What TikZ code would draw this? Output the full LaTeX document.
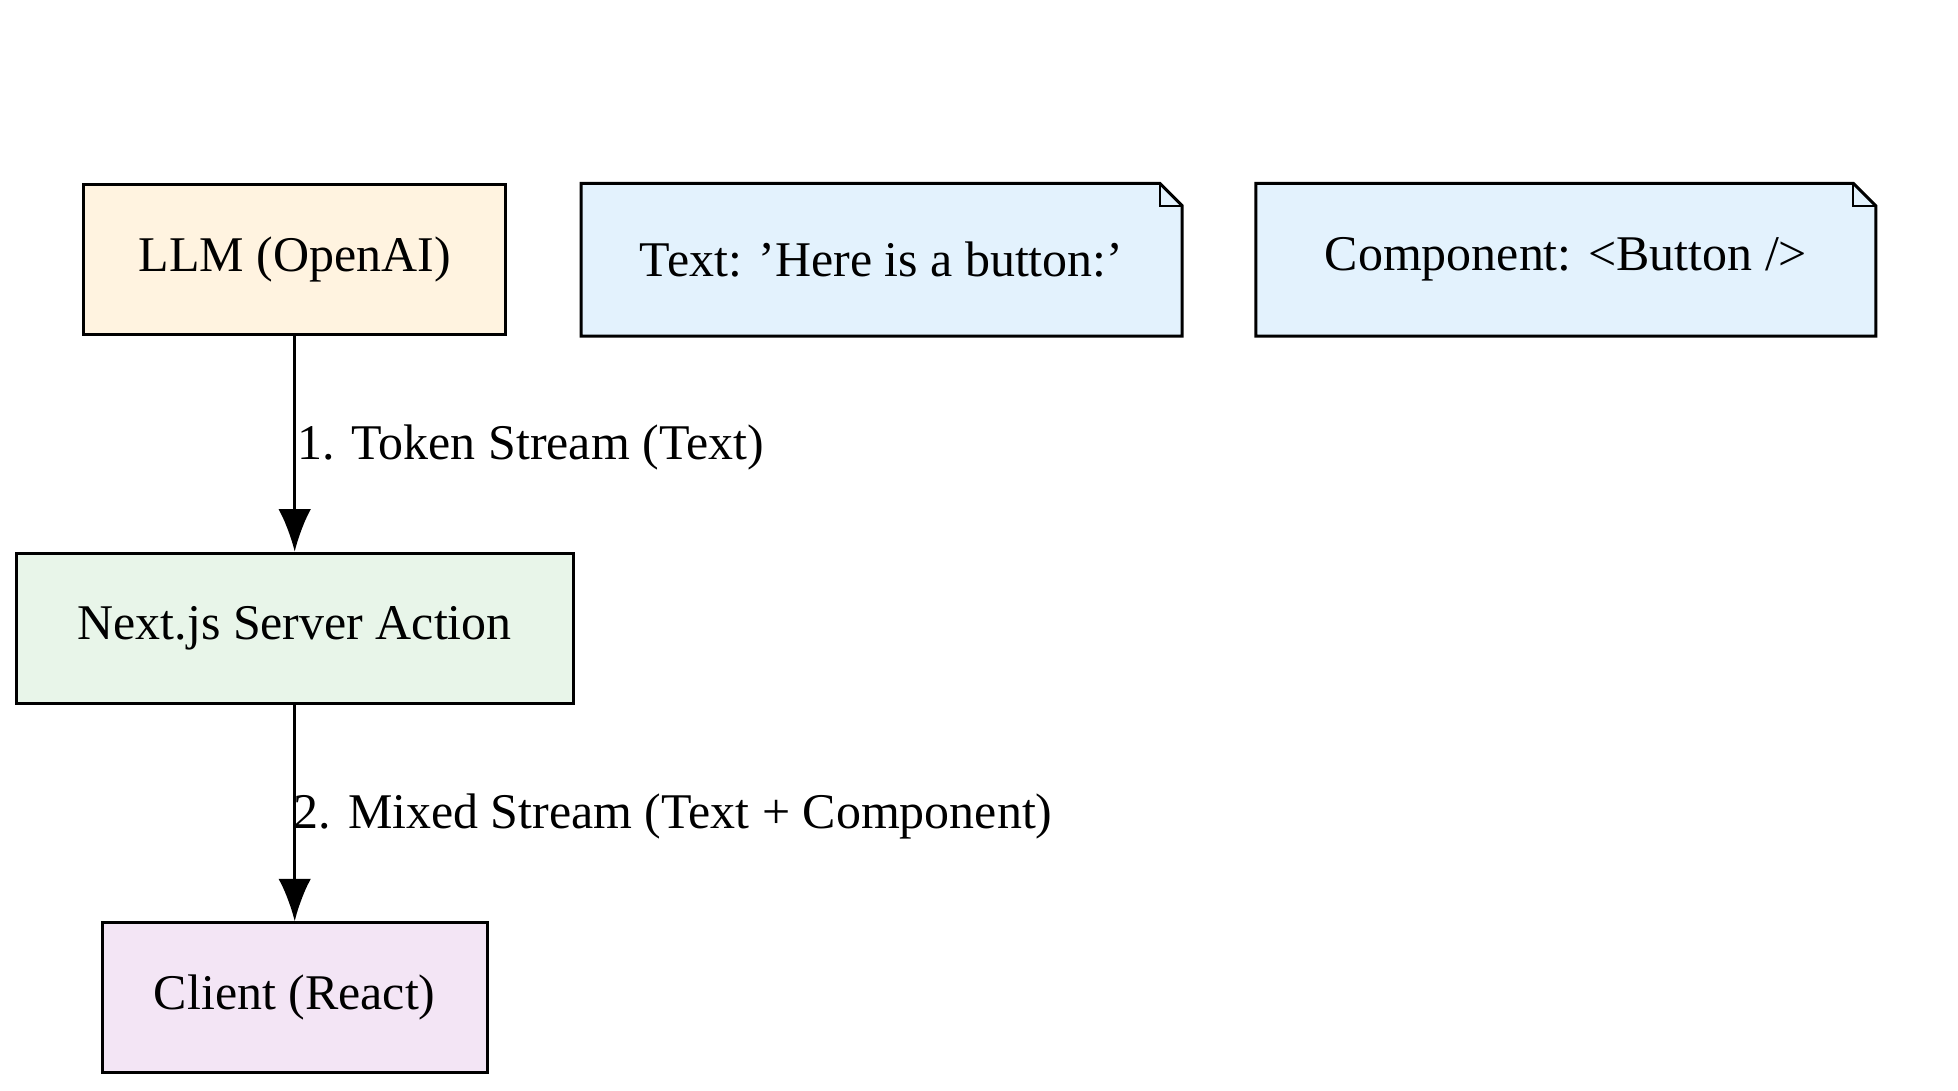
\documentclass[tikz,border=0pt]{standalone}
\usepackage{fontspec}
\setmainfont{Liberation Serif}
\usetikzlibrary{arrows.meta}
\definecolor{cllm}{HTML}{FFF3E0}
\definecolor{cnote}{HTML}{E3F2FD}
\definecolor{csrv}{HTML}{E8F5E9}
\definecolor{ccli}{HTML}{F3E5F5}
\begin{document}
\begin{tikzpicture}[x=0.5pt,y=-0.5pt,
  box/.style={draw,line width=1.2pt,minimum height=60pt,inner sep=0pt,font=\fontsize{20}{24}\selectfont},
  lbl/.style={font=\fontsize{20}{24}\selectfont,anchor=west,inner sep=0pt},
  arr/.style={line width=1.2pt,-{Latex[length=17pt,width=13pt]}}]
\useasboundingbox (0,0) rectangle (1568,873);
\node[box,fill=cllm,minimum width=169pt] (llm) at (236,208) {LLM (OpenAI)};
\node[box,draw=none,minimum width=239.5pt] (t) at (706,208) {};
\node[box,draw=none,minimum width=247pt] (c) at (1254,208) {};
\foreach \n in {t,c}{
  \filldraw[fill=cnote,line width=1.2pt] (\n.south west) -- (\n.north west) -- ([xshift=-9pt]\n.north east) -- ([yshift=-9pt]\n.north east) -- (\n.south east) -- cycle;
  \draw[line width=0.8pt] ([xshift=-9pt]\n.north east) -- ([xshift=-9pt,yshift=-9pt]\n.north east) -- ([yshift=-9pt]\n.north east);
}
\node[font=\fontsize{20}{24}\selectfont] (tt) at (t) {Text: 'Here is a button:'};
\node[font=\fontsize{20}{24}\selectfont] (ct) at (c) {Component: <Button />};
\node[box,fill=csrv,minimum width=223pt] (srv) at (236,503) {Next.js Server Action};
\node[box,fill=ccli,minimum width=154pt] (cli) at (236,799) {Client (React)};
\draw[arr] (llm) -- (srv);
\node[lbl] (l1) at (238,358) {1. Token Stream (Text)};
\draw[arr] (srv) -- (cli);
\node[lbl] (l2) at (235,654) {2. Mixed Stream (Text + Component)};
\end{tikzpicture}
\end{document}
